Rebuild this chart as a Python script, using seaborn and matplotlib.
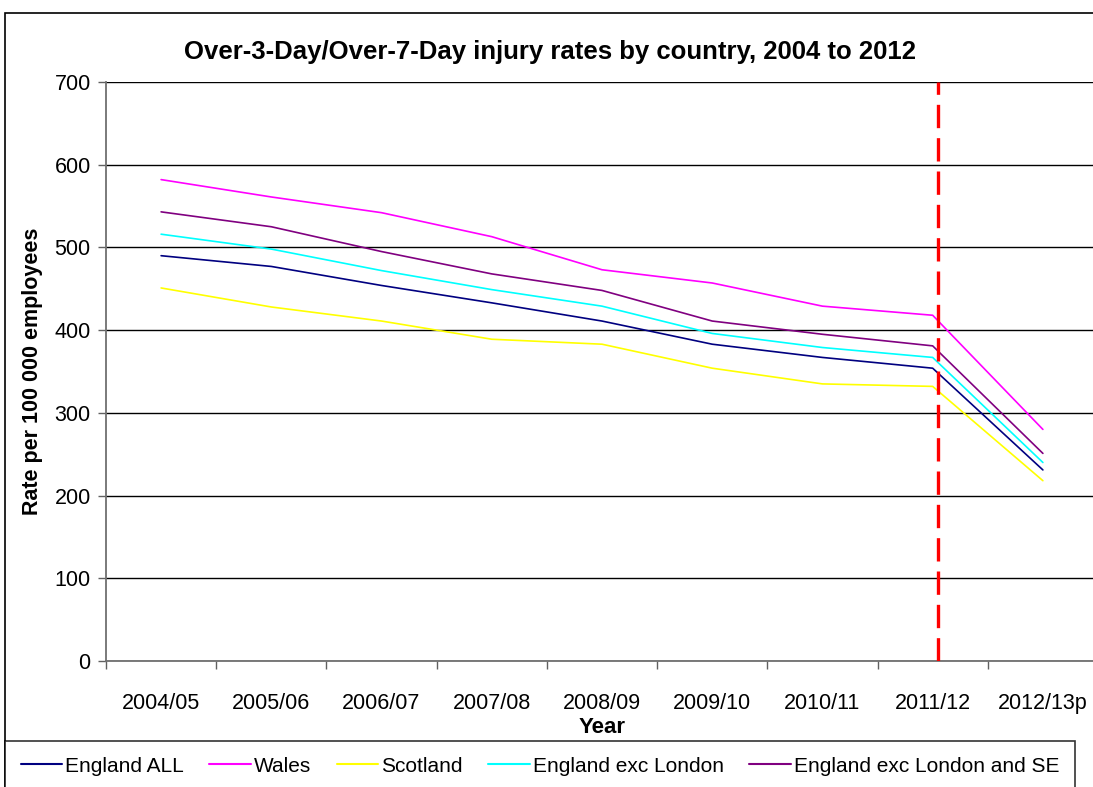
import matplotlib
matplotlib.use("Agg")
import matplotlib.pyplot as plt
from matplotlib.patches import Rectangle
import seaborn as sns
import pandas as pd

# Financial years and injury rates per 100 000 employees
years = ["2004/05", "2005/06", "2006/07", "2007/08", "2008/09",
         "2009/10", "2010/11", "2011/12", "2012/13p"]
england_all = [490, 477, 454, 433, 411, 383, 367, 354, 231]
wales = [582, 561, 542, 513, 473, 457, 429, 418, 280]
scotland = [451, 428, 411, 389, 383, 354, 335, 332, 218]
england_exc_london = [516, 498, 472, 449, 429, 396, 379, 367, 240]
england_exc_london_se = [543, 525, 495, 468, 448, 411, 395, 381, 251]

series_names = ["England ALL", "Wales", "Scotland", "England exc London",
                "England exc London and SE"]
series_values = [england_all, wales, scotland, england_exc_london,
                 england_exc_london_se]
series_colors = ["#000080", "#FF00FF", "#FFFF00", "#00FFFF", "#800080"]

# Position of the break between the old and new reporting regimes
break_position = 7.05

rows = []
for name, vals in zip(series_names, series_values):
    for i, v in enumerate(vals):
        rows.append({"pos": i, "Year": years[i], "rate": v, "series": name})
df = pd.DataFrame(rows)

sns.set_theme(style="white")
plt.rcParams["font.family"] = ["Liberation Sans", "DejaVu Sans"]
plt.rcParams["text.color"] = "black"
plt.rcParams["axes.labelcolor"] = "black"
plt.rcParams["xtick.color"] = "black"
plt.rcParams["ytick.color"] = "black"

fig = plt.figure(figsize=(10.93, 7.87), dpi=100)
ax = fig.add_axes([106 / 1093, 126 / 787, 992 / 1093, 579 / 787])

sns.lineplot(data=df, x="pos", y="rate", hue="series", hue_order=series_names,
             palette=series_colors, linewidth=1.2, sort=False, ax=ax,
             legend=True)

ax.axvline(break_position, color="#FF0000", linewidth=2.4,
           dashes=(7, 3), zorder=5)

ax.set_xlim(-0.5, 8.5)
ax.set_ylim(0, 700)
ax.set_yticks(range(0, 701, 100))
ax.yaxis.grid(True, color="black", linewidth=1)
ax.xaxis.grid(False)
ax.set_xticks(range(len(years)))
ax.set_xticklabels(years)
ax.set_xticks([i - 0.5 for i in range(len(years) + 1)], minor=True)
ax.tick_params(axis="x", which="major", length=0, pad=23, labelsize=15.5,
               labelcolor="black")
ax.tick_params(axis="x", which="minor", length=6, width=1, color="#606060",
               direction="out", bottom=True)
ax.tick_params(axis="y", which="major", length=6, width=1, color="#606060",
               direction="out", left=True, labelsize=15.5, pad=5,
               labelcolor="black")

for side in ["top", "right"]:
    ax.spines[side].set_visible(False)
for side in ["left", "bottom"]:
    ax.spines[side].set_color("#707070")
    ax.spines[side].set_linewidth(1.3)

ax.set_xlabel("Year", fontsize=16, fontweight="bold", labelpad=2)
ax.set_ylabel("Rate per 100 000 employees", fontsize=15.5, fontweight="bold",
              labelpad=8)
fig.text(550 / 1093, 1 - 52 / 787,
         "Over-3-Day/Over-7-Day injury rates by country, 2004 to 2012",
         fontsize=18.5, fontweight="bold", ha="center", va="center")

# Legend along the bottom of the chart
handles, labels = ax.get_legend_handles_labels()
ax.legend_.remove()
leg = fig.legend(handles, labels, loc="upper left",
                 bbox_to_anchor=(5 / 1093, 0, 1070 / 1093, 46 / 787),
                 mode="expand", ncol=5, frameon=True, fontsize=15,
                 handlelength=2.0, handletextpad=0.15, columnspacing=1.8,
                 borderaxespad=0, borderpad=0.75, fancybox=False)
leg.get_frame().set_edgecolor("black")
leg.get_frame().set_linewidth(1.2)
for line in leg.get_lines():
    line.set_linewidth(1.5)

# Outer chart border
fig.patches.append(Rectangle((5 / 1093, -0.05), 1.2, 1 - 13 / 787 + 0.05,
                             transform=fig.transFigure, fill=False,
                             edgecolor="black", linewidth=1.2))

fig.savefig("out.png", dpi=100)
